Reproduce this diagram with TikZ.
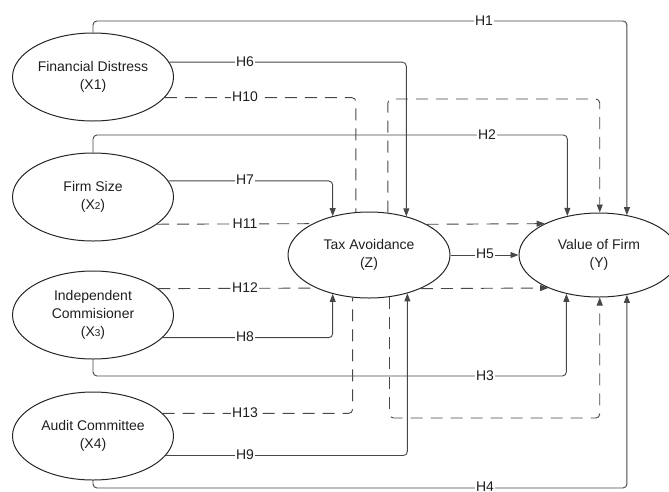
\documentclass[tikz,border=0pt]{standalone}
\usepackage{fontspec}
\setmainfont{Liberation Sans}
\usetikzlibrary{arrows.meta,shapes.geometric}
\begin{document}
\begin{tikzpicture}[x=1pt,y=-1pt,
  font=\fontsize{14}{18}\selectfont,
  var/.style={ellipse, draw=black!85, line width=1pt, text=black!88,
    minimum width=161pt, minimum height=88pt, inner sep=0pt, align=center},
  link/.style={draw=black!72, line width=0.9pt, rounded corners=4pt},
  arr/.style={-{Triangle[length=8pt,width=6pt]}},
  dlink/.style={link, dash pattern=on 12pt off 8pt},
  hlab/.style={fill=white, text=black!88, inner xsep=1.5pt, inner ysep=0.5pt}
]
\useasboundingbox (0,0) rectangle (669,491);
\newcommand{\smalld}[1]{{\fontsize{10}{12}\selectfont #1}}
% nodes
\node[var] (X1) at (93,77) {Financial Distress\\(X1)};
\node[var] (X2) at (93,197) {Firm Size\\(X\smalld{2})};
\node[var] (X3) at (93,315) {Independent\\Commisioner\\(X\smalld{3})};
\node[var] (X4) at (93,436) {Audit Committee\\(X4)};
\node[var, minimum width=162pt, minimum height=86pt] (Z) at (369,255) {Tax Avoidance\\(Z)};
\node[var, minimum width=160pt, minimum height=84pt] (Y) at (599,255) {Value of Firm\\(Y)};
% routing levels
\coordinate (r1) at (0,21);
\coordinate (r2) at (0,99);
\coordinate (r3) at (0,135);
\coordinate (r4) at (0,376);
\coordinate (r5) at (0,418);
\coordinate (r6) at (0,488);
% direct paths to Y
\draw[link,arr] (X1.north) |- (Y.55.7 |- r1) -- (Y.55.7);
\draw[link,arr] (X2.north) |- (Y.129.7 |- r3) -- (Y.129.7);
\draw[link,arr] (X3.south) |- (Y.230.3 |- r4) -- (Y.230.3);
\draw[link,arr] (X4.south) |- (Y.305.4 |- r6) -- (Y.305.4);
% paths to Z
\draw[link,arr] (X1.11.1) -| (Z.46.0);
\draw[link,arr] (X2.12.8) -| (Z.133.1);
\draw[link,arr] (X3.342.5) -| (Z.227.9);
\draw[link,arr] (X4.345.4) -| (Z.315.0);
% Z to Y
\draw[link,arr] (Z.east) -- (Y.west);
% mediation (dashed)
\draw[dlink] (X1.344.5) -| (Z.107.0);
\draw[dlink,arr] (Z.66.8) |- (Y.89 |- r2) -- (Y.89);
\draw[dlink] (X2.337.1) -- (Z.151.1);
\draw[dlink,arr] (Z.28.9) -- (Y.150.1);
\draw[dlink] (X3.22.9) -- (Z.212.4);
\draw[dlink,arr] (Z.327.6) -- (Y.213.7);
\draw[dlink] (X4.18.4) -| (Z.249.2);
\draw[dlink,arr] (Z.296.8) |- (Y.271 |- r5) -- (Y.271);
% labels
\node[hlab] (lH1) at (484,21) {H1};
\node[hlab] (lH6) at (245,62) {H6};
\node[hlab] (lH10) at (245,97) {H10};
\node[hlab] (lH2) at (487,135) {H2};
\node[hlab] (lH7) at (245,180) {H7};
\node[hlab] (lH11) at (245,224) {H11};
\node[hlab] (lH5) at (485,254) {H5};
\node[hlab] (lH12) at (245,288) {H12};
\node[hlab] (lH8) at (245,337) {H8};
\node[hlab] (lH3) at (485,376) {H3};
\node[hlab] (lH13) at (245,413) {H13};
\node[hlab] (lH9) at (245,455) {H9};
\node[hlab] (lH4) at (485,487) {H4};
\end{tikzpicture}
\end{document}
